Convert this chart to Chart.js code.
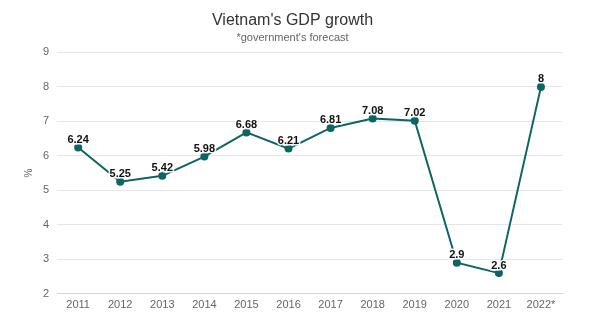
<!DOCTYPE html>
<html>
<head>
<meta charset="utf-8">
<script src="https://cdn.jsdelivr.net/npm/chart.js@4"></script>
<style>
  html, body { margin: 0; padding: 0; background: #fff; }
  #wrap { width: 600px; height: 322px; }
</style>
</head>
<body>
<div id="wrap"><canvas id="chart" width="600" height="322"></canvas></div>
<script>
const years = ['2011', '2012', '2013', '2014', '2015', '2016', '2017', '2018', '2019', '2020', '2021', '2022*']
const growth = [6.24, 5.25, 5.42, 5.98, 6.68, 6.21, 6.81, 7.08, 7.02, 2.9, 2.6, 8]
const lineColor = '#0e6463'

// labels above points
const valueLabels = {
    id: 'valueLabels',
    afterDatasetsDraw(chart) {
        const ctx = chart.ctx
        const meta = chart.getDatasetMeta(0)
        ctx.save()
        ctx.font = 'bold 11px Arial, "Liberation Sans", sans-serif'
        ctx.textAlign = 'center'
        ctx.textBaseline = 'bottom'
        ctx.lineWidth = 3
        ctx.strokeStyle = 'rgba(255,255,255,0.9)'
        ctx.fillStyle = '#111'
        meta.data.forEach((pt, i) => {
            const txt = String(growth[i])
            ctx.strokeText(txt, pt.x, pt.y - 2)
            ctx.fillText(txt, pt.x, pt.y - 2)
        })
        ctx.restore()
    }
}

const ctx = document.getElementById('chart').getContext('2d')
new Chart(ctx, {
    type: 'line',
    data: {
        labels: years,
        datasets: [{
            data: growth,
            borderColor: lineColor,
            backgroundColor: lineColor,
            borderWidth: 2,
            pointRadius: 4,
            pointBackgroundColor: lineColor,
            pointBorderWidth: 0,
            tension: 0
        }]
    },
    options: {
        responsive: false,
        animation: false,
        layout: { padding: { left: 23, right: 38, top: 0, bottom: 13 } },
        scales: {
            y: {
                min: 2,
                max: 9,
                ticks: {
                    stepSize: 1,
                    color: '#666',
                    font: { size: 11, family: 'Arial, "Liberation Sans", sans-serif' },
                    padding: 8
                },
                grid: { color: '#e6e6e6', drawTicks: false },
                border: { display: false },
                title: {
                    display: true,
                    text: '%',
                    color: '#666',
                    font: { size: 10, family: 'Arial, "Liberation Sans", sans-serif' },
                    padding: 0
                }
            },
            x: {
                offset: true,
                ticks: {
                    color: '#666',
                    font: { size: 11, family: 'Arial, "Liberation Sans", sans-serif' },
                    padding: -3,
                    maxRotation: 0
                },
                grid: { display: false },
                border: { display: true, color: '#ccd6eb', width: 1 }
            }
        },
        plugins: {
            legend: { display: false },
            tooltip: { enabled: false },
            title: {
                display: true,
                text: "Vietnam's GDP growth",
                color: '#333',
                font: { size: 16, weight: 'normal', family: 'Arial, "Liberation Sans", sans-serif' },
                padding: { top: 11, bottom: 1 }
            },
            subtitle: {
                display: true,
                text: "*government's forecast",
                color: '#666',
                font: { size: 11, family: 'Arial, "Liberation Sans", sans-serif' },
                padding: { top: 0, bottom: 8 }
            }
        }
    },
    plugins: [valueLabels]
})
</script>
</body>
</html>
